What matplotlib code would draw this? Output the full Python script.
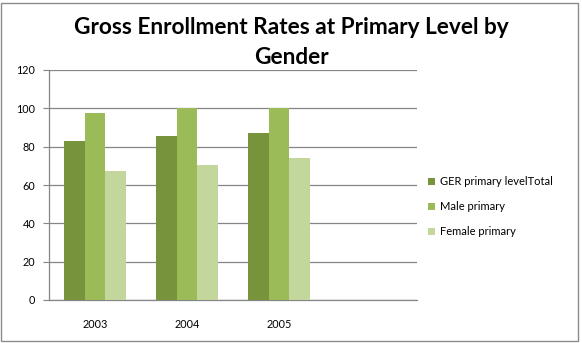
import matplotlib
matplotlib.use("Agg")
import matplotlib.pyplot as plt
import numpy as np
from matplotlib.patches import Rectangle

categories = ["2003", "2004", "2005", ""]
series_names = ["GER primary levelTotal", "Male primary", "Female primary"]
ger_total = [83, 85.6, 87.3, None]
male = [97.7, 100, 100, None]
female = [67.3, 70.4, 73.9, None]
colors = ["#77933C", "#9BBB59", "#C3D69B"]
yticks = [0, 20, 40, 60, 80, 100, 120]

plt.rcParams['font.family'] = ['Lato', 'DejaVu Sans']

fig = plt.figure(figsize=(5.82, 3.43), dpi=100)
W, H = 582, 343
ax = fig.add_axes([49 / W, 1 - 300 / H, (417 - 49) / W, (300 - 70) / H])

# outer border
fig.patches.append(Rectangle((1 / W, 2 / H), 577 / W, 338 / H, transform=fig.transFigure,
                             fill=False, edgecolor="#8c8c8c", linewidth=1))

x = np.arange(len(categories))
bw = 0.228
for i, (vals, c, name) in enumerate(zip([ger_total, male, female], colors, series_names)):
    xs = [xi + (i - 1) * bw for xi, v in zip(x, vals) if v is not None]
    vs = [v for v in vals if v is not None]
    ax.bar(xs, vs, width=bw, color=c, label=name, zorder=3, linewidth=0)

ax.set_xlim(-0.5, len(categories) - 0.5)
ax.set_ylim(0, 120)
ax.set_yticks(yticks)
ax.set_xticks(x)
ax.set_xticklabels(categories)
ax.yaxis.grid(True, color="#868686", linewidth=0.9, zorder=0)
for s in ["top", "right"]:
    ax.spines[s].set_visible(False)
for s in ["left", "bottom"]:
    ax.spines[s].set_color("#868686")
    ax.spines[s].set_linewidth(0.9)
ax.tick_params(axis="y", length=4, color="#868686", labelsize=7.8, pad=6)
ax.tick_params(axis="x", length=0, labelsize=7.8, pad=14)

fig.text(0.5, 1 - 28 / H, "Gross Enrollment Rates at Primary Level by", ha="center", va="center",
         fontsize=16.3, fontweight="bold")
fig.text(0.5, 1 - 58 / H, "Gender", ha="center", va="center", fontsize=16.3, fontweight="bold")

leg = fig.legend(loc="upper left", bbox_to_anchor=(424 / W, 1 - 172 / H), frameon=False,
                 fontsize=8, handlelength=0.6, handleheight=0.6, handletextpad=0.4,
                 labelspacing=1.25, borderaxespad=0, borderpad=0.4)

fig.savefig("out.png", dpi=100)
